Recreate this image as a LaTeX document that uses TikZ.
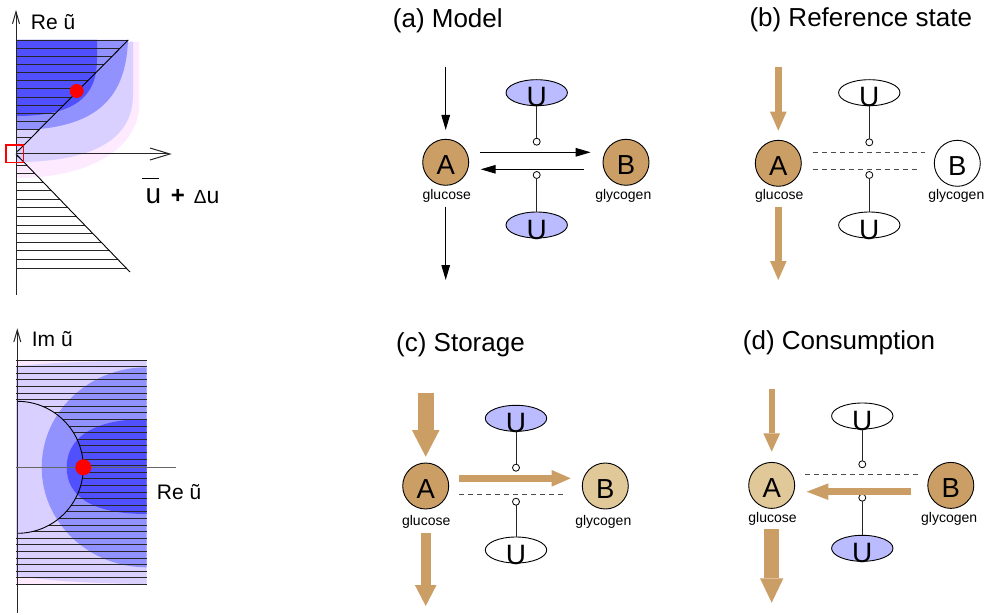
\documentclass[tikz,border=0pt]{standalone}
\usepackage{fontspec}
\setmainfont{Liberation Sans}
\usepackage{graphicx}
\usetikzlibrary{arrows.meta,shapes.geometric}

\definecolor{brownc}{RGB}{203,158,102}
\definecolor{tanc}{RGB}{224,200,152}
\definecolor{ublue}{RGB}{187,187,255}
\definecolor{darkc}{RGB}{80,80,255}
\definecolor{midc}{RGB}{146,146,255}
\definecolor{lavc}{RGB}{217,208,255}
\definecolor{pinkc}{RGB}{253,234,255}

% letter lowered slightly below the centre of its shape
\newcommand{\sunk}[2]{\smash{\raisebox{-#1}{#2}}}

\begin{document}
\begin{tikzpicture}[x=1pt,y=-1pt,
  species/.style={circle, draw=black, line width=0.9pt, minimum size=46pt, inner sep=0pt, outer sep=0pt, font=\fontsize{27.5}{30}\selectfont},
  fullc/.style={species, fill=brownc},
  halfc/.style={species, fill=tanc},
  emptyc/.style={species, fill=white},
  ctrl/.style={ellipse, draw=black, line width=0.9pt, minimum width=61.4pt, minimum height=26pt, inner sep=0pt, outer sep=0pt, font=\fontsize{28}{30}\selectfont},
  onctrl/.style={ctrl, fill=ublue},
  offctrl/.style={ctrl, fill=white},
  knob/.style={circle, draw=black, fill=white, line width=0.8pt, minimum size=7pt, inner sep=0pt, outer sep=0pt},
  stem/.style={draw=black!85, line width=0.9pt},
  sublabel/.style={font=\fontsize{14}{16}\selectfont, inner sep=0pt},
  title/.style={font=\fontsize{26}{30}\selectfont, inner sep=0pt, anchor=base west},
  axlabel/.style={font=\fontsize{21}{24}\selectfont, inner sep=0pt, anchor=base west},
  flow/.style={draw=black, line width=1.2pt, -{Triangle[length=15pt,width=8.5pt]}},
  ghost/.style={draw=black!70, line width=0.9pt, dash pattern=on 5pt off 4pt},
  bulk/.style n args={3}{draw=brownc, line width=#1, -{Triangle[length=#2,width=#3,line width=0pt]}},
  hatch/.style={draw=black!85, line width=0.9pt},
  edge/.style={draw=black, line width=0.9pt},
  axis/.style={draw=black!85, line width=1pt}
]
\useasboundingbox (0,0) rectangle (986,615);

% ---------- upper stability plot ----------
\fill[pinkc] (16,42) -- (139,42) -- (139,105) .. controls (139,145) and (95,178) .. (16,178) -- cycle;
\fill[lavc] (16,41.7) -- (133,41.7) -- (133,95) .. controls (133,135) and (100,162) .. (16,162) -- cycle;
\fill[midc] (16,40) -- (128,40) .. controls (126,95) and (100,130) .. (16,130) -- cycle;
\fill[darkc] (16,40) -- (97,40) -- (97,60) .. controls (97,100) and (70,116) .. (16,116) -- cycle;
\foreach \k in {0,...,13} {
  \pgfmathsetmacro{\yy}{40+\k*8.15}
  \pgfmathsetmacro{\xe}{128.3-(\yy-40)*0.9938}
  \draw[hatch] (16,\yy) -- (\xe,\yy);
}
\foreach \k in {0,...,12} {
  \pgfmathsetmacro{\yy}{165+\k*8.58}
  \pgfmathsetmacro{\xe}{16+(\yy-154)*0.966}
  \draw[hatch] (16,\yy) -- (\xe,\yy);
}
\draw[edge] (128.3,40) -- (18,151);
\draw[edge] (16,154) -- (130,272);
\draw[line width=0.6pt] (20,149) .. controls (15,152) and (15,156) .. (20,158);
\draw[axis, -{Straight Barb[length=12pt,width=7pt]}] (16,295) -- (16,10);
\draw[axis, -{Straight Barb[length=20pt,width=12pt]}] (16,154) -- (171.7,154);
\fill[red] (76.7,91) circle[radius=7pt];
\draw[red, line width=1.3pt] (6,145) rectangle (23.3,162.3);
\node[axlabel] (reTop) at (30.7,29.3) {Re ũ};
\node[anchor=base west, inner sep=0pt] (shiftLab) at (145.3,203.3)
  {{\fontsize{28}{30}\selectfont\makebox[0pt][l]{\hspace{-3.6pt}\raisebox{24.4pt}{\rule{16.6pt}{1.3pt}}}u}\hspace{9.8pt}{\fontsize{24}{26}\selectfont\bfseries +}\hspace{9pt}{\fontsize{19}{21}\selectfont Δ}{\fontsize{23}{25}\selectfont u}};

% ---------- lower stability plot ----------
\fill[pinkc] (16,360) rectangle (146.7,585);
\fill[lavc] (16,366) .. controls (60,362) and (100,361) .. (146.7,361) -- (146.7,584)
  .. controls (100,583.5) and (60,582) .. (16,576) -- cycle;
\fill[midc] (146.7,367.3) arc[start angle=90,end angle=270,x radius=105pt,y radius=100pt] -- cycle;
\fill[darkc] (146.7,419) .. controls (90,419) and (66.7,440) .. (66.7,467.3)
  .. controls (66.7,495) and (90,514) .. (146.7,514) -- cycle;
\foreach \k in {0,...,34} {
  \pgfmathsetmacro{\yy}{360+\k*6.6}
  \pgfmathsetmacro{\dy}{abs(\yy-467.3)}
  \pgfmathsetmacro{\xs}{\dy<66 ? 17.3+sqrt(max(0,4356-\dy*\dy)) : 16}
  \draw[hatch] (\xs,\yy) -- (146.7,\yy);
}
\draw[edge] (17.3,401.3) arc[start angle=90,end angle=-90,radius=66pt];
\draw[axis, -{Straight Barb[length=12pt,width=7pt]}] (17.3,613) -- (17.3,328.3);
\draw[draw=black!60, line width=1pt] (16,467.3) -- (176,467.3);
\fill[red] (83.3,467.3) circle[radius=8pt];
\node[axlabel] (imBot) at (31.7,346.7) {Im ũ};
\node[axlabel] (reBot) at (156.7,499.3) {Re ũ};

% ---------- (a) Model ----------
\node[title] (ta) at (392.7,27.3) {(a) Model};
\node[fullc] (aA) at (445.7,162.3) {\sunk{12.3pt}{A}};
\node[fullc] (aB) at (626,162.3) {\sunk{12.3pt}{B}};
\node[sublabel] (aAn) at (446.7,195.7) {glucose};
\node[sublabel] (aBn) at (623.3,195.7) {glycogen};
\node[onctrl] (aU1) at (536.7,92.7) {\sunk{14pt}{U}};
\node[onctrl] (aU2) at (536.7,225) {\sunk{14pt}{U}};
\node[knob] (aK1) at (536.7,141.7) {};
\node[knob] (aK2) at (536.7,175) {};
\coordinate (aIn) at (445.7,66.7);
\coordinate (aOut) at (445.7,280);
\draw[flow, shorten >=9.3pt] (aIn) -- (aA);
\draw[flow, shorten <=21.4pt] (aA) -- (aOut);
\draw[flow, shorten <=11.3pt, shorten >=12.3pt] ([yshift=10pt]aA.east) -- ([yshift=10pt]aB.west);
\draw[flow, shorten <=19pt, shorten >=12pt] ([yshift=-7pt]aB.west) -- ([yshift=-7pt]aA.east);
\draw[stem] (aU1) -- (aK1);
\draw[stem] (aU2) -- (aK2);

% ---------- (b) Reference state ----------
\node[title] (tb) at (749.3,26.7) {(b) Reference state};
\node[fullc] (bA) at (778.3,163.3) {\sunk{12.3pt}{A}};
\node[emptyc] (bB) at (957.3,163.3) {\sunk{12.3pt}{B}};
\node[sublabel] (bAn) at (779.2,195.8) {glucose};
\node[sublabel] (bBn) at (956.3,195.8) {glycogen};
\node[offctrl] (bU1) at (869.3,92.7) {\sunk{14pt}{U}};
\node[offctrl] (bU2) at (869.3,225) {\sunk{14pt}{U}};
\node[knob] (bK1) at (869.3,142.3) {};
\node[knob] (bK2) at (869.3,175) {};
\coordinate (bIn) at (778.3,66.7);
\coordinate (bOut) at (778.3,280);
\draw[bulk={6.7pt}{19pt}{16.7pt}, shorten >=9.6pt] (bIn) -- (bA);
\draw[bulk={6.7pt}{19pt}{16.7pt}, shorten <=20.4pt] (bA) -- (bOut);
\draw[ghost, shorten <=11.4pt, shorten >=9.3pt] ([yshift=11pt]bA.east) -- ([yshift=11pt]bB.west);
\draw[ghost, shorten <=11.4pt, shorten >=15pt] ([yshift=-6pt]bA.east) -- ([yshift=-6pt]bB.west);
\draw[stem] (bU1) -- (bK1);
\draw[stem] (bU2) -- (bK2);

% ---------- (c) Storage ----------
\node[title] (tc) at (396,351.7) {(c) Storage};
\node[fullc] (cA) at (425.7,486) {\sunk{12.3pt}{A}};
\node[halfc] (cB) at (605.3,486) {\sunk{12.3pt}{B}};
\node[sublabel] (cAn) at (426.2,521.7) {glucose};
\node[sublabel] (cBn) at (603.3,521.7) {glycogen};
\node[onctrl] (cU1) at (516,418.3) {\sunk{14pt}{U}};
\node[offctrl] (cU2) at (516,550) {\sunk{14pt}{U}};
\node[knob] (cK1) at (516,467.7) {};
\node[knob] (cK2) at (516,501.7) {};
\coordinate (cIn) at (425.7,392.7);
\coordinate (cOut) at (425.7,606);
\draw[bulk={16pt}{26.7pt}{27.7pt}, shorten >=6.3pt] (cIn) -- (cA);
\draw[bulk={10pt}{21pt}{21.7pt}, shorten <=24.3pt] (cA) -- (cOut);
\draw[bulk={6.7pt}{19pt}{16.7pt}, shorten <=10.3pt, shorten >=11.6pt] ([yshift=7.7pt]cA.east) -- ([yshift=7.7pt]cB.west);
\draw[ghost, shorten <=10.3pt, shorten >=17.3pt] ([yshift=-8.3pt]cA.east) -- ([yshift=-8.3pt]cB.west);
\draw[stem] (cU1) -- (cK1);
\draw[stem] (cU2) -- (cK2);

% ---------- (d) Consumption ----------
\node[title] (td) at (742.7,349.3) {(d) Consumption};
\node[halfc] (dA) at (771.7,485.4) {\sunk{12.3pt}{A}};
\node[fullc] (dB) at (950.8,485.4) {\sunk{12.3pt}{B}};
\node[sublabel] (dAn) at (772.5,518.5) {glucose};
\node[sublabel] (dBn) at (949.2,518.5) {glycogen};
\node[offctrl] (dU1) at (862.3,416) {\sunk{14pt}{U}};
\node[onctrl] (dU2) at (862.3,548.3) {\sunk{14pt}{U}};
\node[knob] (dK1) at (862.3,464.3) {};
\node[knob] (dK2) at (862.3,497.7) {};
\coordinate (dIn) at (771.7,389.3);
\coordinate (dOut) at (771.7,602.7);
\draw[bulk={5.7pt}{18.3pt}{16.7pt}, shorten >=10.7pt] (dIn) -- (dA);
\draw[bulk={15pt}{24.3pt}{23.3pt}, shorten <=20.9pt] (dA) -- (dOut);
\draw[bulk={7pt}{21.7pt}{16.7pt}, shorten <=17.1pt, shorten >=12pt] ([yshift=-6.3pt]dB.west) -- ([yshift=-6.3pt]dA.east);
\draw[ghost, shorten <=10.3pt, shorten >=9.5pt] ([yshift=11.1pt]dA.east) -- ([yshift=11.1pt]dB.west);
\draw[stem] (dU1) -- (dK1);
\draw[stem] (dU2) -- (dK2);
\end{tikzpicture}
\end{document}
